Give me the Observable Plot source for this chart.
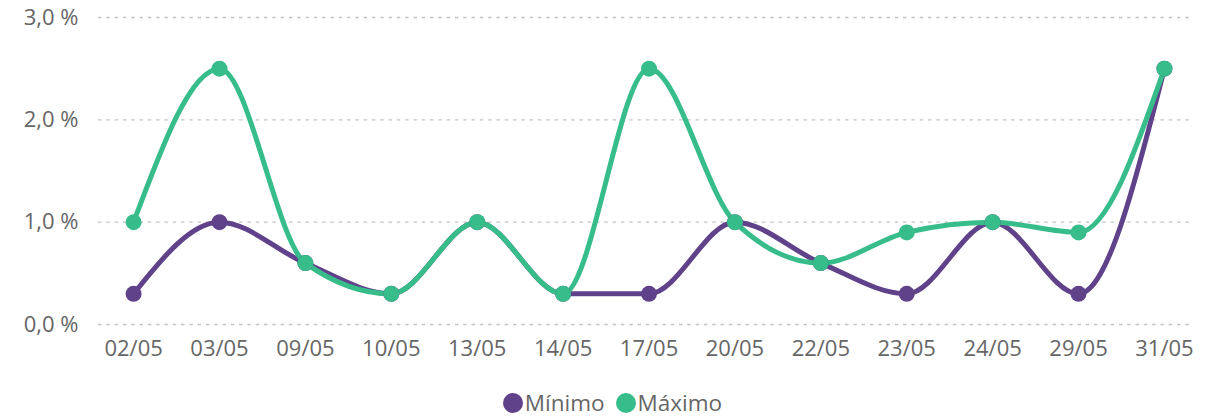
<!DOCTYPE html>
<html>
<head>
<meta charset="utf-8">
<script src="https://cdn.jsdelivr.net/npm/d3@7"></script>
<script src="https://cdn.jsdelivr.net/npm/@observablehq/plot@0.6"></script>
<style>
  html, body { margin: 0; padding: 0; background: #fff; }
  body { width: 1225px; height: 416px; overflow: hidden; font-family: "Open Sans", "Noto Sans", sans-serif; }
  #chart svg { display: block; }
  #legend { display: flex; justify-content: center; align-items: center; gap: 11px; font-size: 22.5px; line-height: 24px; height: 24px; color: #666; margin-top: 21px; padding-left: 0px; }
  .item { display: flex; align-items: center; }
  .sw { width: 20px; height: 20px; border-radius: 50%; display: inline-block; margin-right: 2px; }
</style>
</head>
<body>
<div id="chart"></div>
<div id="legend"></div>
<script>
const dates = ["02/05","03/05","09/05","10/05","13/05","14/05","17/05","20/05","22/05","23/05","24/05","29/05","31/05"];
const minimo = [0.3, 1.0, 0.6, 0.3, 1.0, 0.3, 0.3, 1.0, 0.6, 0.3, 1.0, 0.3, 2.5];
const maximo = [1.0, 2.5, 0.6, 0.3, 1.0, 0.3, 2.5, 1.0, 0.6, 0.9, 1.0, 0.9, 2.5];
const seriesNames = ["Mínimo", "Máximo"];
const colors = ["#60428A", "#37BD89"];
const yTicks = [0, 1, 2, 3];

const rows = [];
dates.forEach((d, i) => rows.push({date: d, value: minimo[i], series: seriesNames[0]}));
dates.forEach((d, i) => rows.push({date: d, value: maximo[i], series: seriesNames[1]}));

const fmt = v => v.toFixed(1).replace(".", ",") + " %";

const chart = Plot.plot({
  width: 1225,
  height: 370,
  marginLeft: 98,
  marginRight: 32,
  marginTop: 17,
  marginBottom: 46,
  style: { fontFamily: "'Open Sans', 'Noto Sans', sans-serif", fontSize: "22px", color: "#666", background: "#fff", overflow: "visible" },
  x: { type: "point", domain: dates, padding: 0.3735, align: 0.547, round: false, label: null },
  y: { domain: [0, 3], label: null },
  color: { domain: seriesNames, range: colors },
  marks: [
    Plot.gridY(yTicks, { stroke: "#c4c4c4", strokeOpacity: 1, strokeDasharray: "3.5,4.8", strokeWidth: 1.4 }),
    Plot.axisY(yTicks, { tickSize: 0, tickPadding: 20, tickFormat: fmt, fontSize: 22, fill: "#666" }),
    Plot.axisX({ tickSize: 0, tickPadding: 16, fontSize: 22, fill: "#666" }),
    Plot.line(rows, { x: "date", y: "value", z: "series", stroke: "series", strokeWidth: 5, curve: "monotone-x" }),
    Plot.dot(rows, { x: "date", y: "value", fill: "series", r: 8 })
  ]
});
document.getElementById("chart").appendChild(chart);

const legend = document.getElementById("legend");
seriesNames.forEach((s, i) => {
  const it = document.createElement("div");
  it.className = "item";
  const sw = document.createElement("span");
  sw.className = "sw";
  sw.style.background = colors[i];
  it.appendChild(sw);
  const t = document.createElement("span");
  t.textContent = s;
  it.appendChild(t);
  legend.appendChild(it);
});
</script>
</body>
</html>
